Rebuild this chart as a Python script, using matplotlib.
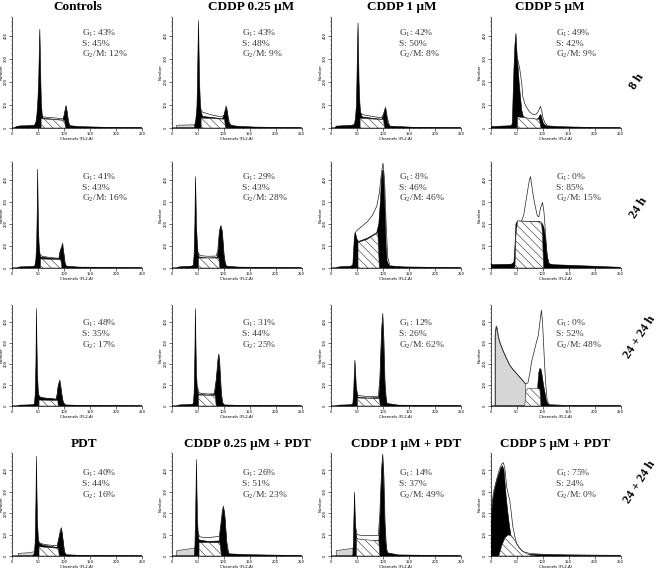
import matplotlib
matplotlib.use('Agg')
import matplotlib.pyplot as plt

plt.rcParams['font.family'] = ['Liberation Serif', 'DejaVu Serif']
plt.rcParams['mathtext.fontset'] = 'custom'
plt.rcParams['mathtext.rm'] = 'Liberation Serif'
plt.rcParams['mathtext.it'] = 'Liberation Serif:italic'
plt.rcParams['hatch.linewidth'] = 0.4
plt.rcParams['hatch.color'] = '#555555'

# ---------------- data (channel, count) ----------------
COL_TITLES_TOP = ["Controls", "CDDP 0.25 \u03bcM", "CDDP 1 \u03bcM", "CDDP 5 \u03bcM"]
COL_TITLES_BOTTOM = ["PDT", "CDDP 0.25 \u03bcM + PDT", "CDDP 1 \u03bcM + PDT", "CDDP 5 \u03bcM + PDT"]
ROW_LABELS = ["8 h", "24 h", "24 + 24 h", "24 + 24 h"]

G1_PCT = [[43, 43, 42, 49], [41, 29, 8, 0], [48, 31, 12, 0], [40, 26, 14, 75]]
S_PCT = [[45, 48, 50, 42], [43, 43, 46, 85], [35, 44, 26, 52], [44, 51, 37, 24]]
G2_PCT = [[12, 9, 8, 9], [16, 28, 46, 15], [17, 25, 62, 48], [16, 23, 49, 0]]
G2_NAME = [["G2/M", "G2/M", "G2/M", "G2/M"], ["G2/M", "G2/M", "G2/M", "G2/M"],
           ["G2", "G2", "G2/M", "G2/M"], ["G2", "G2/M", "G2/M", "G2/M"]]

# Row 1 (8 h)
H_11 = [(0,0),(5,0),(8,6),(15,9),(30,10),(43,12),(46,25),(48,60),(50,130),(51.5,220),(52.5,330),(53.5,428),(54.5,330),(55.5,200),(56.5,110),(58,60),(60,42),(80,38),(98,34),(100,50),(102,75),(104,94),(106,70),(108,30),(111,10),(130,6),(180,3),(250,1),(250,0)]
S_11 = [(56,0),(56,40),(101,33),(103,0)]
F_11 = [(56,55),(60,48),(80,44),(98,40),(101,60),(104,97),(107,55),(110,15),(114,6)]
D_11 = []

H_12 = [(0,0),(44,0),(45,15),(47,40),(49,94),(50,200),(51,350),(52,465),(53,330),(54,200),(55.5,110),(57,70),(60,50),(80,45),(98,40),(101,55),(104,80),(106,91),(108,60),(110,25),(115,12),(125,8),(160,4),(250,1),(250,0)]
S_12 = [(57,0),(57,43),(102,38),(104,0)]
F_12 = [(56,80),(60,68),(75,58),(95,48),(101,55),(105,95),(108,60),(112,15)]
D_12 = [(10,0),(10,12),(45,14),(46,0)]

H_13 = [(0,0),(8,0),(10,8),(40,12),(45,15),(47,40),(49,100),(50,220),(51,360),(52,455),(53,330),(54,200),(55.5,110),(57,65),(60,48),(80,42),(98,38),(101,55),(103,75),(105,86),(107,55),(109,22),(114,8),(160,3),(250,1),(250,0)]
S_13 = [(56,0),(56,42),(101,36),(103,0)]
F_13 = [(56,70),(60,58),(80,50),(97,44),(101,60),(105,90),(108,50),(112,12)]
D_13 = []

H_14 = [(0,0),(1,6),(20,8),(40,10),(42,20),(43,100),(45,250),(47,360),(49,410),(50.5,340),(52,290),(53,266),(55,200),(57,150),(60,79),(63,50),(70,42),(90,38),(93,45),(95,55),(97,58),(99,40),(102,18),(106,10),(130,6),(200,2),(250,1),(250,0)]
S_14 = [(52,0),(52,48),(94,37),(97,0)]
F_14 = [(52,300),(56,260),(60,194),(62,137),(66,105),(69,91),(75,70),(82,58),(88,60),(92,72),(96,94),(99,70),(101,43),(105,20),(108,14)]
D_14 = []

# Row 2 (24 h)
H_21 = [(0,0),(10,0),(15,5),(40,7),(44,10),(46,40),(47.5,113),(48.5,250),(49.3,448),(50.2,300),(51,180),(52,113),(53.5,70),(55,50),(70,45),(90,42),(92,70),(94,83),(96,95),(97,110),(98,90),(100,60),(102,20),(105,8),(130,4),(250,1),(250,0)]
S_21 = [(55,0),(55,41),(94,38),(96,0)]
F_21 = [(54,60),(58,53),(75,47),(91,44),(93,80),(96,100),(97.5,112),(100,60),(103,12)]
D_21 = []

H_22 = [(0,0),(10,0),(15,5),(38,8),(42,12),(43.5,60),(45,200),(46,415),(47,330),(48,200),(49.5,120),(51,70),(53,50),(70,45),(88,48),(90,83),(92,159),(93.5,180),(95,189),(97,175),(99,120),(101,60),(103,25),(106,8),(130,4),(250,1),(250,0)]
S_22 = [(52,0),(52,45),(91,45),(93,0)]
F_22 = [(51,70),(55,56),(70,53),(86,54),(89,80),(92,160),(95,192),(98,160),(101,60),(104,15)]
D_22 = []

H_23 = [(0,0),(10,0),(15,5),(38,8),(42,15),(43.5,80),(45,140),(46.5,163),(48,150),(50,130),(53,120),(70,135),(88,160),(92,200),(95,300),(97,400),(99,440),(100.5,444),(102,380),(104,250),(106,100),(108,30),(112,10),(140,5),(250,1),(250,0)]
S_23 = [(52,0),(52,115),(70,130),(90,160),(93,0)]
F_23 = [(48,165),(52,175),(60,190),(70,210),(80,240),(88,280),(93,340),(97,430),(100,475),(103,400),(106,200),(109,50),(113,12)]
D_23 = []

H_24 = [(0,0),(1,15),(40,17),(45,25),(47,100),(49,200),(52,213),(95,210),(98,205),(100,200),(103,180),(106,130),(109,60),(112,20),(120,15),(200,8),(250,3),(250,0)]
S_24 = [(47,0),(49,150),(52,213),(98,208),(100,150),(102,0)]
F_24 = [(60,215),(64,240),(68,300),(72,360),(75,400),(77,414),(79,380),(82,330),(86,280),(90,236),(93,232),(96,270),(100,297),(103,250),(106,150),(109,50),(113,18)]
D_24 = []

# Row 3 (24 + 24 h)
H_31 = [(0,0),(10,0),(15,4),(40,6),(43,10),(44.5,50),(46,200),(47,463),(48,300),(49,150),(50.5,76),(52,45),(60,38),(85,32),(87,60),(89,100),(91,112),(92,120),(94,90),(96,50),(99,15),(103,5),(130,3),(250,1),(250,0)]
S_31 = [(52,0),(52,28),(88,26),(89,0)]
F_31 = [(50,60),(54,41),(70,36),(86,33),(89,90),(92,124),(95,70),(98,20),(102,6)]
D_31 = []

H_32 = [(0,0),(10,0),(15,5),(40,8),(42,12),(43.5,60),(45,250),(46,463),(47,300),(48,160),(49.5,90),(51,65),(53,55),(70,52),(83,55),(85,100),(88,170),(90,230),(91,242),(92,220),(94,130),(96,50),(98,15),(102,5),(130,3),(250,1),(250,0)]
S_32 = [(52,0),(52,52),(84,50),(86,0)]
F_32 = [(50,90),(53,65),(56,60),(70,57),(82,58),(86,120),(89,210),(91,248),(93,200),(96,60),(99,12)]
D_32 = []

H_33 = [(0,0),(10,0),(15,4),(38,6),(42,10),(43.5,60),(45,160),(46,218),(47,180),(48.5,100),(50,60),(52,42),(70,38),(92,40),(94,100),(96,250),(98,380),(99.5,427),(101,330),(103,150),(105,50),(108,12),(130,4),(250,1),(250,0)]
S_33 = [(51,0),(51,38),(93,35),(95,0)]
F_33 = [(49,80),(52,50),(70,45),(91,45),(94,130),(97,330),(99.5,440),(102,300),(104,100),(107,20)]
D_33 = []

H_34 = [(0,0),(90,0),(91,100),(93,160),(95,178),(97,175),(99,150),(102,100),(105,60),(108,20),(112,5),(140,3),(250,1),(250,0)]
S_34 = [(66,0),(68,70),(72,84),(90,84),(95,80),(97,0)]
F_34 = [(9,0),(9,340),(11,380),(13,370),(16,320),(20,290),(25,258),(31,225),(37,194),(44,172),(50,155),(57,135),(63,118),(68,105),(72,110),(76,160),(79,210),(84,260),(88,300),(92,336),(96,420),(98,455),(100,400),(102,300),(104,200),(106,110),(109,25),(113,6),(140,3),(250,1)]
D_34 = [(9,0),(9,330),(11,376),(14,340),(18,300),(25,258),(31,225),(37,194),(44,170),(50,155),(57,135),(63,118),(67,105),(68,60),(67,0)]

# Row 4 (24 + 24 h, with PDT)
H_41 = [(0,0),(40,0),(43,12),(44.5,60),(46,250),(47,465),(48,300),(49,160),(50.5,90),(52,60),(60,50),(87,40),(89,70),(91,90),(93,110),(95,129),(97,100),(99,60),(101,20),(104,6),(130,3),(250,1),(250,0)]
S_41 = [(52,0),(52,43),(89,36),(91,0)]
F_41 = [(50,75),(53,62),(60,55),(75,50),(87,48),(90,80),(93,120),(95,132),(98,70),(101,15)]
D_41 = [(12,0),(12,12),(30,15),(44,20),(46,0)]

H_42 = [(0,0),(44,0),(45,40),(46.5,200),(48,450),(49,300),(50,170),(51.5,100),(53,75),(70,68),(92,70),(94,120),(97,180),(99,215),(100,226),(102,200),(104,140),(106,70),(108,25),(111,10),(150,6),(200,4),(250,2),(250,0)]
S_42 = [(53,0),(53,62),(93,62),(96,0)]
F_42 = [(51,110),(54,90),(65,85),(80,88),(92,92),(95,150),(98,215),(100,232),(103,180),(106,70),(110,15)]
D_42 = [(10,0),(10,25),(25,30),(42,36),(45,40),(46,0)]

H_43 = [(0,0),(42,0),(43,60),(44.3,200),(45.3,298),(46.5,200),(48,110),(50,80),(70,70),(92,72),(94,150),(96,300),(98,420),(99.5,466),(101,380),(103,200),(105,70),(108,15),(130,5),(250,1),(250,0)]
S_43 = [(49,0),(49,80),(92,70),(94,0)]
F_43 = [(47,140),(50,100),(60,95),(80,95),(91,95),(94,200),(97,380),(99.5,475),(102,360),(104,150),(107,30),(111,8)]
D_43 = [(10,0),(10,25),(25,30),(42,36),(44,0)]

H_44 = [(0,0),(1,150),(4,250),(8,310),(12,350),(16,380),(20,410),(23,420),(26,400),(28,340),(30,280),(33,210),(36,150),(39,100),(43,60),(48,30),(55,15),(70,8),(120,5),(250,2),(250,0)]
S_44 = [(16,0),(22,50),(28,85),(34,98),(40,95),(46,75),(52,50),(60,25),(70,10),(80,3),(85,0)]
F_44 = [(0,150),(2,230),(6,300),(12,360),(18,410),(22,430),(25,435),(28,400),(31,323),(35,280),(37,261),(40,200),(43,136),(47,90),(50,59),(56,36),(63,20),(75,12),(100,8),(150,5),(250,3)]
D_44 = []

HIST = [[H_11, H_12, H_13, H_14], [H_21, H_22, H_23, H_24], [H_31, H_32, H_33, H_34], [H_41, H_42, H_43, H_44]]
SPH = [[S_11, S_12, S_13, S_14], [S_21, S_22, S_23, S_24], [S_31, S_32, S_33, S_34], [S_41, S_42, S_43, S_44]]
FIT = [[F_11, F_12, F_13, F_14], [F_21, F_22, F_23, F_24], [F_31, F_32, F_33, F_34], [F_41, F_42, F_43, F_44]]
DEB = [[D_11, D_12, D_13, D_14], [D_21, D_22, D_23, D_24], [D_31, D_32, D_33, D_34], [D_41, D_42, D_43, D_44]]

X_TICKS = [0, 50, 100, 150, 200, 250]
Y_TICKS = [0, 100, 200, 300, 400]

# ---------------- layout (pixels) ----------------
W, H = 663, 568
fig = plt.figure(figsize=(W / 100, H / 100), dpi=100)
COL_LEFT = [12, 171.5, 331, 490.5]
ROW_BASE = [128, 268, 406, 556]
ROW_TOP = [17, 162, 305, 453]
AX_W = 130
TXT_Y = [[33, 43.5, 54], [177, 187.5, 198], [323, 334, 345], [473, 484, 495]]
TXT_DX = [70, 70, 68, 66]


def fx(px):
    return px / W


def fy(py):
    return 1 - py / H


for r in range(4):
    for c in range(4):
        L, B, T = COL_LEFT[c], ROW_BASE[r], ROW_TOP[r]
        ax = fig.add_axes([fx(L), fy(B), AX_W / W, (B - T) / H])
        ax.set_xlim(0, 250)
        ax.set_ylim(0, 480)
        ax.set_facecolor('none')
        d = DEB[r][c]
        if d:
            ax.fill([p[0] for p in d], [p[1] for p in d], facecolor='#d6d6d6',
                    edgecolor='#222222', lw=0.4, zorder=1)
        h = HIST[r][c]
        ax.fill([p[0] for p in h], [p[1] for p in h], facecolor='black',
                edgecolor='black', lw=0.4, zorder=2)
        s = SPH[r][c]
        ax.fill([p[0] for p in s], [p[1] for p in s], facecolor='white',
                edgecolor='#333333', hatch='\\\\\\\\', lw=0.4, zorder=3)
        f = FIT[r][c]
        ax.plot([p[0] for p in f], [p[1] for p in f], color='#222222', lw=0.5, zorder=4)

        for sp in ['top', 'right']:
            ax.spines[sp].set_visible(False)
        for sp in ['left', 'bottom']:
            ax.spines[sp].set_linewidth(0.5)
        ax.set_xticks(X_TICKS)
        ax.set_xticks(range(0, 251, 10), minor=True)
        ax.set_yticks(Y_TICKS)
        ax.set_yticks(range(0, 481, 20), minor=True)
        ax.tick_params(which='major', length=2, width=0.4, labelsize=2.6, pad=1)
        ax.tick_params(which='minor', length=1, width=0.3)
        ax.set_xticklabels([str(v) for v in X_TICKS], fontfamily='DejaVu Sans')
        ax.set_yticklabels([str(v) for v in Y_TICKS], fontfamily='DejaVu Sans',
                           rotation=90, va='center')
        ax.set_xlabel('Channels (FL2-A)', fontsize=2.8, labelpad=0.5, fontfamily='DejaVu Sans')
        ax.set_ylabel('Number', fontsize=2.8, labelpad=0.5, fontfamily='DejaVu Sans')

        g2 = 'G$_2$/M' if G2_NAME[r][c] == 'G2/M' else 'G$_2$'
        lines = ['G$_1$: %d%%' % G1_PCT[r][c], 'S: %d%%' % S_PCT[r][c],
                 '%s: %d%%' % (g2, G2_PCT[r][c])]
        for k, t in enumerate(lines):
            fig.text(fx(L + TXT_DX[c]), fy(TXT_Y[r][k]), t, fontsize=6.8,
                     color='#3a3a3a', va='center', ha='left')

TITLE_TOP_X = [78, 251, 402, 550]
TITLE_BOT_X = [84, 247, 406, 555]
for c in range(4):
    fig.text(fx(TITLE_TOP_X[c]), fy(7), COL_TITLES_TOP[c], fontsize=9.5,
             fontweight='bold', ha='center', va='center')
    fig.text(fx(TITLE_BOT_X[c]), fy(444), COL_TITLES_BOTTOM[c], fontsize=9.5,
             fontweight='bold', ha='center', va='center')

ROW_LABEL_POS = [(637, 82), (639, 208), (640, 337), (640, 482)]
for (x, y), t in zip(ROW_LABEL_POS, ROW_LABELS):
    fig.text(fx(x), fy(y), t, fontsize=9, fontweight='bold', rotation=57,
             ha='center', va='center', rotation_mode='anchor')

fig.savefig('out.png', dpi=100)
